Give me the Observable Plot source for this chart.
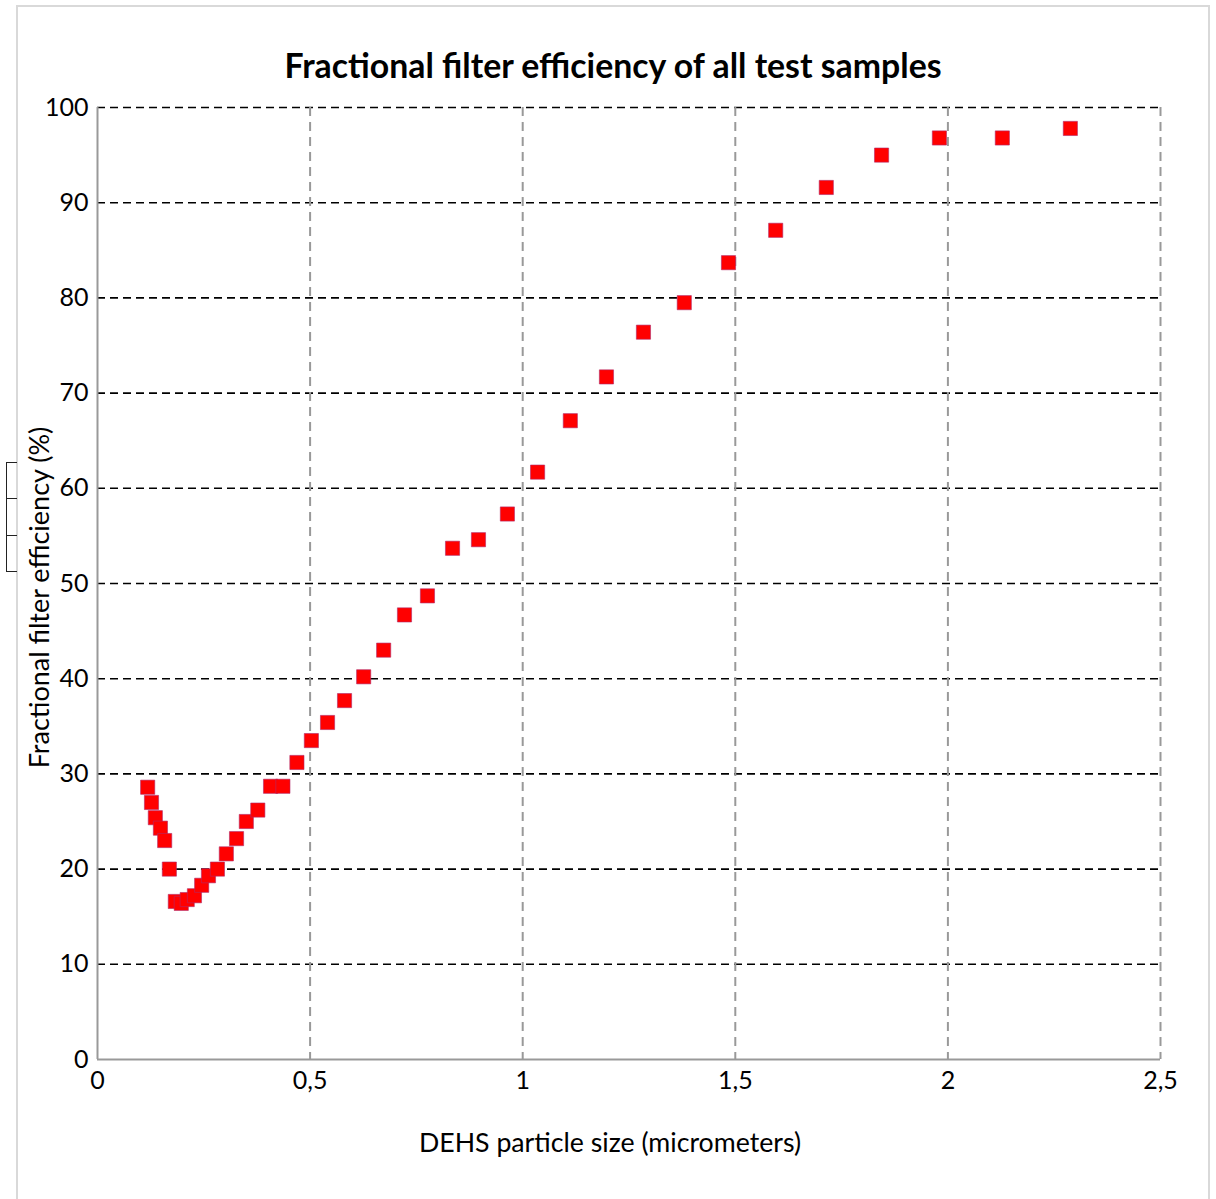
<!DOCTYPE html>
<html>
<head>
<meta charset="utf-8">
<script src="https://cdn.jsdelivr.net/npm/d3@7"></script>
<script src="https://cdn.jsdelivr.net/npm/@observablehq/plot@0.6"></script>
<style>
  html, body { margin: 0; padding: 0; background: #fff; }
  #wrap { position: relative; width: 1216px; height: 1199px; overflow: hidden; font-family: Lato, "Open Sans", sans-serif; }
  #border { position: absolute; left: 16px; top: 5px; width: 1194px; height: 1210px; border: 2px solid #d9d9d9; box-sizing: border-box; pointer-events: none; }
  #bracket { position: absolute; left: 6px; top: 462px; width: 10px; height: 110px; border-left: 1.5px solid #222; box-sizing: border-box; }
  #bracket div { position: absolute; left: 0; width: 10px; border-top: 1.5px solid #222; }
  #chart { position: absolute; left: 0; top: 0; }
</style>
</head>
<body>
<div id="wrap">
  <div id="chart"></div>
  <div id="border"></div>
  <div id="bracket"><div style="top:0"></div><div style="top:36px"></div><div style="top:73px"></div><div style="top:109px"></div></div>
</div>
<script>
const title = "Fractional filter efficiency of all test samples";
const xLabel = "DEHS particle size (micrometers)";
const yLabel = "Fractional filter efficiency (%)";

const particleSize = [
  0.118, 0.127, 0.136, 0.148, 0.158, 0.169, 0.183, 0.197, 0.211, 0.228,
  0.245, 0.261, 0.282, 0.303, 0.327, 0.350, 0.377, 0.407, 0.436, 0.469,
  0.503, 0.541, 0.581, 0.626, 0.673, 0.722, 0.776, 0.835, 0.896, 0.964,
  1.035, 1.112, 1.197, 1.284, 1.380, 1.484, 1.595, 1.714, 1.844, 1.980,
  2.128, 2.288
];
const efficiency = [
  28.6, 27.0, 25.4, 24.3, 23.0, 20.0, 16.6, 16.4, 16.8, 17.2,
  18.3, 19.3, 20.0, 21.6, 23.2, 25.0, 26.2, 28.7, 28.7, 31.2,
  33.5, 35.4, 37.7, 40.2, 43.0, 46.7, 48.7, 53.7, 54.6, 57.3,
  61.7, 67.1, 71.7, 76.4, 79.5, 83.7, 87.1, 91.6, 95.0, 96.8,
  96.8, 97.8
];
const xTicks = [0, 0.5, 1, 1.5, 2, 2.5];
const yTicks = [0, 10, 20, 30, 40, 50, 60, 70, 80, 90, 100];

const data = particleSize.map((x, i) => ({x, y: efficiency[i]}));
const fmt = d => String(d).replace(".", ",");

const chart = Plot.plot({
  width: 1216,
  height: 1199,
  marginLeft: 97,
  marginRight: 56,
  marginTop: 107,
  marginBottom: 140,
  style: {fontFamily: "Lato, sans-serif", fontSize: "25px", color: "#000", background: "transparent"},
  x: {domain: [0, 2.5]},
  y: {domain: [0, 100]},
  marks: [
    Plot.gridY(yTicks.filter(d => d > 0), {stroke: "#000", strokeOpacity: 1, strokeWidth: 1.6, strokeDasharray: "8,5"}),
    Plot.gridX(xTicks.filter(d => d > 0), {stroke: "#999", strokeOpacity: 1, strokeWidth: 2, strokeDasharray: "9,6"}),
    Plot.ruleX([0], {stroke: "#999", strokeWidth: 2}),
    Plot.ruleY([0], {stroke: "#999", strokeWidth: 2}),
    Plot.axisY(yTicks, {tickSize: 0, tickPadding: 9, tickFormat: fmt, fontSize: 25, label: null}),
    Plot.axisX(xTicks, {tickSize: 0, tickPadding: 12, tickFormat: fmt, fontSize: 25, label: null}),
    Plot.dot(data, {x: "x", y: "y", symbol: "square", r: 8, fill: "#ff0000", stroke: "#b02a6a", strokeWidth: 0.6}),
    Plot.text([title], {frameAnchor: "top", dy: -40, dx: -16, fontSize: 33.8, fontWeight: "bold", lineAnchor: "middle"}),
    Plot.text([xLabel], {frameAnchor: "bottom", dy: 84, dx: -19, fontSize: 26.7, textAnchor: "middle", lineAnchor: "middle"}),
    Plot.text([yLabel], {frameAnchor: "left", dx: -57, dy: 14, rotate: -90, fontSize: 27, textAnchor: "middle", lineAnchor: "middle"})
  ]
});
document.getElementById("chart").appendChild(chart);
</script>
</body>
</html>
